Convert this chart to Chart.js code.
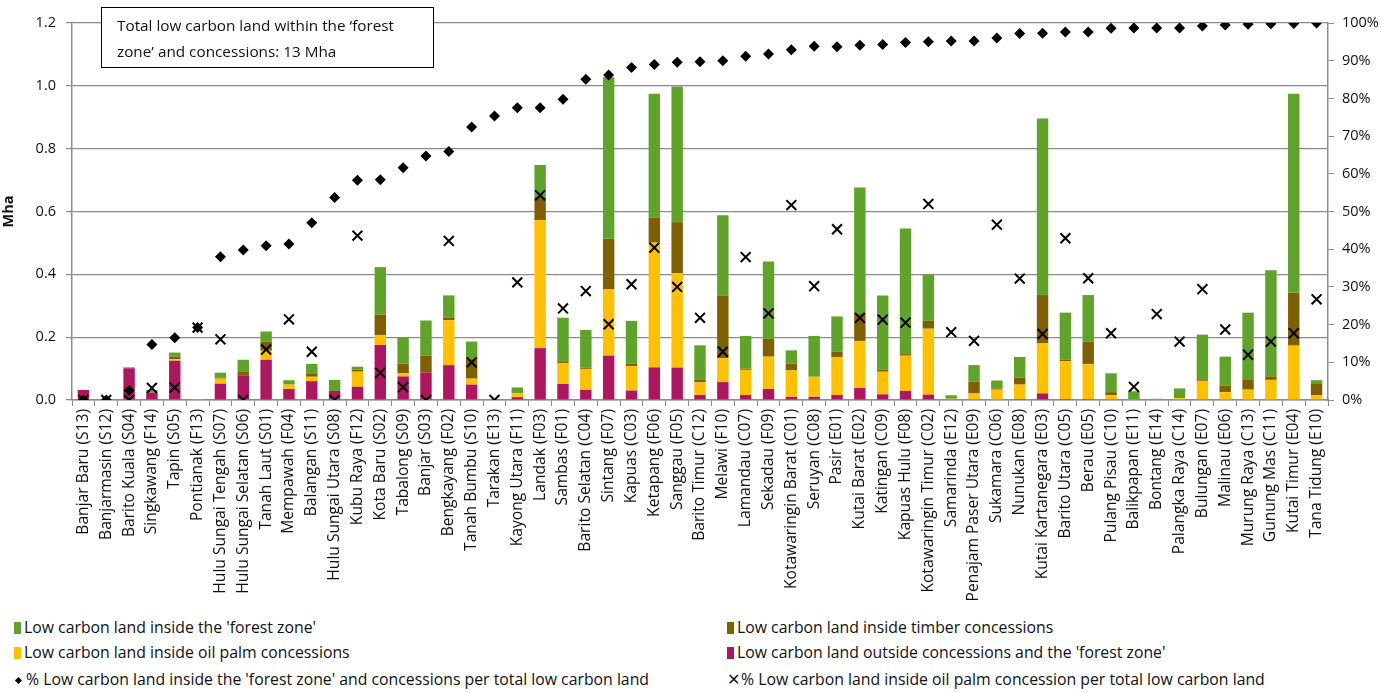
<!DOCTYPE html>
<html>
<head>
<meta charset="utf-8">
<script src="https://cdn.jsdelivr.net/npm/chart.js@4.4.0/dist/chart.umd.min.js"></script>
<style>
  html, body { margin: 0; padding: 0; background: #fff; }
  #wrap { position: relative; width: 1400px; height: 693px; font-family: "Open Sans", Lato, sans-serif; color: #111; }
  #chartBox { position: absolute; left: 0; top: 0; width: 1400px; height: 605px; }
  .item { position: absolute; font-size: 15.8px; line-height: 18px; white-space: nowrap; }
  .sw { display: inline-block; width: 7px; height: 12px; margin-right: 3px; vertical-align: -1px; }
  .dia { display: inline-block; width: 5px; height: 5px; background: #000; transform: rotate(45deg); margin: 0 5px 0 2px; vertical-align: 2px; }
</style>
</head>
<body>
<div id="wrap">
  <div id="chartBox"><canvas id="c" width="1400" height="605"></canvas></div>
  <div id="legend"></div>
</div>
<script>
// Regencies, ordered by share of low carbon land inside the forest zone and concessions
const regencies = [
  'Banjar Baru (S13)', 'Banjarmasin (S12)', 'Barito Kuala (S04)', 'Singkawang (F14)', 'Tapin (S05)',
  'Pontianak (F13)', 'Hulu Sungai Tengah (S07)', 'Hulu Sungai Selatan (S06)', 'Tanah Laut (S01)', 'Mempawah (F04)',
  'Balangan (S11)', 'Hulu Sungai Utara (S08)', 'Kubu Raya (F12)', 'Kota Baru (S02)', 'Tabalong (S09)',
  'Banjar (S03)', 'Bengkayang (F02)', 'Tanah Bumbu (S10)', 'Tarakan (E13)', 'Kayong Utara (F11)',
  'Landak (F03)', 'Sambas (F01)', 'Barito Selatan (C04)', 'Sintang (F07)', 'Kapuas (C03)',
  'Ketapang (F06)', 'Sanggau (F05)', 'Barito Timur (C12)', 'Melawi (F10)', 'Lamandau (C07)',
  'Sekadau (F09)', 'Kotawaringin Barat (C01)', 'Seruyan (C08)', 'Pasir (E01)', 'Kutai Barat (E02)',
  'Katingan (C09)', 'Kapuas Hulu (F08)', 'Kotawaringin Timur (C02)', 'Samarinda (E12)', 'Penajam Paser Utara (E09)',
  'Sukamara (C06)', 'Nunukan (E08)', 'Kutai Kartanegara (E03)', 'Barito Utara (C05)', 'Berau (E05)',
  'Pulang Pisau (C10)', 'Balikpapan (E11)', 'Bontang (E14)', 'Palangka Raya (C14)', 'Bulungan (E07)',
  'Malinau (E06)', 'Murung Raya (C13)', 'Gunung Mas (C11)', 'Kutai Timur (E04)', 'Tana Tidung (E10)'
];

// Low carbon land (Mha) outside concessions and the forest zone
const outsideMha = [
  0.032, 0, 0.101, 0.024, 0.125, 0, 0.052, 0.077, 0.128, 0.035,
  0.060, 0.029, 0.042, 0.175, 0.075, 0.088, 0.111, 0.049, 0, 0.009,
  0.165, 0.051, 0.032, 0.141, 0.030, 0.104, 0.103, 0.016, 0.057, 0.016,
  0.035, 0.010, 0.010, 0.016, 0.038, 0.018, 0.029, 0.017, 0.001, 0.001,
  0.002, 0.003, 0.021, 0.003, 0.003, 0.001, 0, 0, 0, 0.001,
  0, 0, 0, 0, 0
];
// Low carbon land (Mha) inside oil palm concessions
const oilPalmMha = [
  0, 0, 0, 0, 0.005, 0.003, 0.016, 0, 0.029, 0.014,
  0.014, 0, 0.048, 0.032, 0.010, 0, 0.143, 0.019, 0, 0.012,
  0.408, 0.066, 0.067, 0.212, 0.078, 0.397, 0.301, 0.040, 0.076, 0.080,
  0.103, 0.084, 0.064, 0.121, 0.150, 0.072, 0.112, 0.210, 0.003, 0.020,
  0.031, 0.046, 0.159, 0.121, 0.111, 0.014, 0.001, 0.001, 0.006, 0.060,
  0.025, 0.033, 0.064, 0.173, 0.016
];
// Low carbon land (Mha) inside timber concessions
const timberMha = [
  0, 0, 0, 0, 0.008, 0, 0.003, 0.014, 0.029, 0,
  0.011, 0, 0.007, 0.065, 0.031, 0.053, 0.009, 0.063, 0, 0,
  0.075, 0.004, 0.004, 0.160, 0.008, 0.080, 0.162, 0.008, 0.200, 0.004,
  0.057, 0.022, 0, 0.017, 0.088, 0.007, 0.005, 0.025, 0, 0.038,
  0.004, 0.022, 0.154, 0.004, 0.072, 0.010, 0, 0, 0, 0.005,
  0.021, 0.033, 0.011, 0.168, 0.035
];
// Low carbon land (Mha) inside the forest zone
const forestZoneMha = [
  0, 0, 0.003, 0.008, 0.013, 0, 0.016, 0.037, 0.032, 0.014,
  0.030, 0.035, 0.009, 0.151, 0.084, 0.112, 0.070, 0.055, 0.002, 0.019,
  0.100, 0.141, 0.120, 0.514, 0.136, 0.394, 0.432, 0.110, 0.255, 0.104,
  0.246, 0.042, 0.130, 0.112, 0.400, 0.236, 0.400, 0.148, 0.011, 0.052,
  0.025, 0.066, 0.562, 0.150, 0.148, 0.060, 0.027, 0.003, 0.031, 0.142,
  0.092, 0.212, 0.338, 0.634, 0.012
];
// % of low carbon land inside the forest zone and concessions
const pctInsideZones = [
  0, 0, 2.5, 14.7, 16.5, 19.2, 38.0, 39.8, 40.9, 41.4,
  47.0, 53.7, 58.3, 58.4, 61.6, 64.7, 65.9, 72.4, 75.3, 77.5,
  77.5, 79.8, 85.1, 86.2, 88.2, 89.0, 89.6, 89.7, 90.0, 91.2,
  91.8, 92.9, 93.8, 93.7, 94.1, 94.3, 94.8, 95.0, 95.2, 95.2,
  96.0, 97.2, 97.3, 97.6, 97.6, 98.6, 98.7, 98.7, 98.7, 99.2,
  99.5, 99.7, 99.8, 99.9, 100
];
// % of low carbon land inside oil palm concessions
const pctOilPalm = [
  0, 0, 0, 3.2, 3.3, 19.2, 16.1, 0, 13.4, 21.4,
  12.8, 0, 43.6, 7.2, 3.4, 0, 42.2, 10.0, 0, 31.2,
  54.3, 24.3, 28.9, 20.1, 30.7, 40.4, 30.0, 21.8, 12.8, 37.9,
  23.0, 51.7, 30.2, 45.3, 21.8, 21.3, 20.5, 52.0, 18.0, 15.7,
  46.5, 32.2, 17.5, 42.9, 32.3, 17.7, 3.5, 22.8, 15.5, 29.4,
  18.7, 12.0, 15.5, 17.7, 26.7
];

const mhaTicks = [0, 0.2, 0.4, 0.6, 0.8, 1.0, 1.2];
const pctTicks = [0, 10, 20, 30, 40, 50, 60, 70, 80, 90, 100];

const seriesNames = {
  forest: "Low carbon land inside the 'forest zone'",
  timber: 'Low carbon land inside timber concessions',
  oil: 'Low carbon land inside oil palm concessions',
  outside: "Low carbon land outside concessions and the 'forest zone'",
  pctZones: "% Low carbon land inside the 'forest zone' and concessions per total low carbon land",
  pctOil: '% Low carbon land inside oil palm concession per total low carbon land'
};
const colors = { forest: '#5FA32A', timber: '#7F6000', oil: '#FFC000', outside: '#B0155F' };

const FONT = '"Open Sans", Lato, sans-serif';
const AXIS = '#8c8c8c';

// Text box in the top-left corner of the plot
const noteBox = {
  id: 'noteBox',
  afterDraw(chart) {
    const ctx = chart.ctx;
    ctx.save();
    ctx.fillStyle = '#fff';
    ctx.fillRect(101, 7, 332, 60);
    ctx.strokeStyle = '#000';
    ctx.lineWidth = 1;
    ctx.strokeRect(101.5, 7.5, 332, 60);
    ctx.fillStyle = '#111';
    ctx.font = '15.3px ' + FONT;
    ctx.textBaseline = 'middle';
    ctx.fillText('Total low carbon land within the \u2018forest', 117, 27);
    ctx.fillText('zone\u2019 and concessions: 13 Mha', 117, 53);
    ctx.restore();
  }
};

const chart = new Chart(document.getElementById('c'), {
  type: 'bar',
  data: {
    labels: regencies,
    datasets: [
      { label: seriesNames.pctZones, type: 'line', data: pctInsideZones, yAxisID: 'y2', showLine: false,
        pointStyle: 'rectRot', pointRadius: 5.5, pointBackgroundColor: '#000', pointBorderColor: '#000', pointBorderWidth: 0, order: 0 },
      { label: seriesNames.pctOil, type: 'line', data: pctOilPalm, yAxisID: 'y2', showLine: false,
        pointStyle: 'crossRot', pointRadius: 7, pointBorderColor: '#000', pointBorderWidth: 2, order: 0 },
      { label: seriesNames.outside, data: outsideMha, backgroundColor: colors.outside, yAxisID: 'y', order: 1 },
      { label: seriesNames.oil, data: oilPalmMha, backgroundColor: colors.oil, yAxisID: 'y', order: 1 },
      { label: seriesNames.timber, data: timberMha, backgroundColor: colors.timber, yAxisID: 'y', order: 1 },
      { label: seriesNames.forest, data: forestZoneMha, backgroundColor: colors.forest, yAxisID: 'y', order: 1 }
    ]
  },
  options: {
    responsive: false,
    animation: false,
    devicePixelRatio: 1,
    layout: { padding: { top: 23, left: 0, right: 0, bottom: 0 } },
    datasets: { bar: { barPercentage: 0.5, categoryPercentage: 1.0 } },
    plugins: { legend: { display: false }, tooltip: { enabled: false } },
    scales: {
      x: {
        stacked: true,
        grid: { display: true, drawOnChartArea: false, offset: true, tickLength: 6, color: AXIS },
        border: { color: AXIS, width: 1.5 },
        ticks: { autoSkip: false, minRotation: 90, maxRotation: 90, padding: 3, color: '#111', font: { family: FONT, size: 15.6 } },
        afterFit(s) { s.height = 205; }
      },
      y: {
        stacked: true,
        position: 'left',
        min: 0, max: 1.2,
        afterBuildTicks(s) { s.ticks = mhaTicks.map(v => ({ value: v })); },
        ticks: { padding: 10, color: '#111', font: { family: FONT, size: 14.5 }, callback: v => Number(v).toFixed(1) },
        grid: { color: AXIS, lineWidth: 1.2, tickLength: 6 },
        border: { color: AXIS, width: 1.5 },
        title: { display: true, text: 'Mha', color: '#111', font: { family: FONT, size: 14.5, weight: 'bold' }, padding: { top: 0, bottom: 0 } },
        afterFit(s) { s.width = 72; }
      },
      y2: {
        position: 'right',
        min: 0, max: 100,
        afterBuildTicks(s) { s.ticks = pctTicks.map(v => ({ value: v })); },
        ticks: { padding: 8, color: '#111', font: { family: FONT, size: 14.5 }, callback: v => v + '%' },
        grid: { drawOnChartArea: false, color: AXIS, tickLength: 6 },
        border: { color: AXIS, width: 1.5 },
        afterFit(s) { s.width = 72; }
      }
    }
  },
  plugins: [noteBox]
});

// Legend in two columns, built from the chart's datasets
const legend = document.getElementById('legend');
const byLabel = {};
chart.data.datasets.forEach(d => { byLabel[d.label] = d; });
const legendRows = [
  [seriesNames.forest, seriesNames.timber],
  [seriesNames.oil, seriesNames.outside],
  [seriesNames.pctZones, seriesNames.pctOil]
];
const rowTops = [618, 643, 670];
const colLefts = [14, 727];
legendRows.forEach((row, r) => {
  row.forEach((name, c) => {
    const d = byLabel[name];
    const el = document.createElement('div');
    el.className = 'item';
    el.style.top = rowTops[r] + 'px';
    el.style.left = colLefts[c] + 'px';
    let mark;
    if (d.type === 'line') {
      mark = d.pointStyle === 'rectRot' ? '<span class="dia"></span>' : '<span style="font-size:16px;margin-right:1px">\u2715</span>';
    } else {
      mark = '<span class="sw" style="background:' + d.backgroundColor + '"></span>';
    }
    el.innerHTML = mark + name;
    legend.appendChild(el);
  });
});
</script>
</body>
</html>
